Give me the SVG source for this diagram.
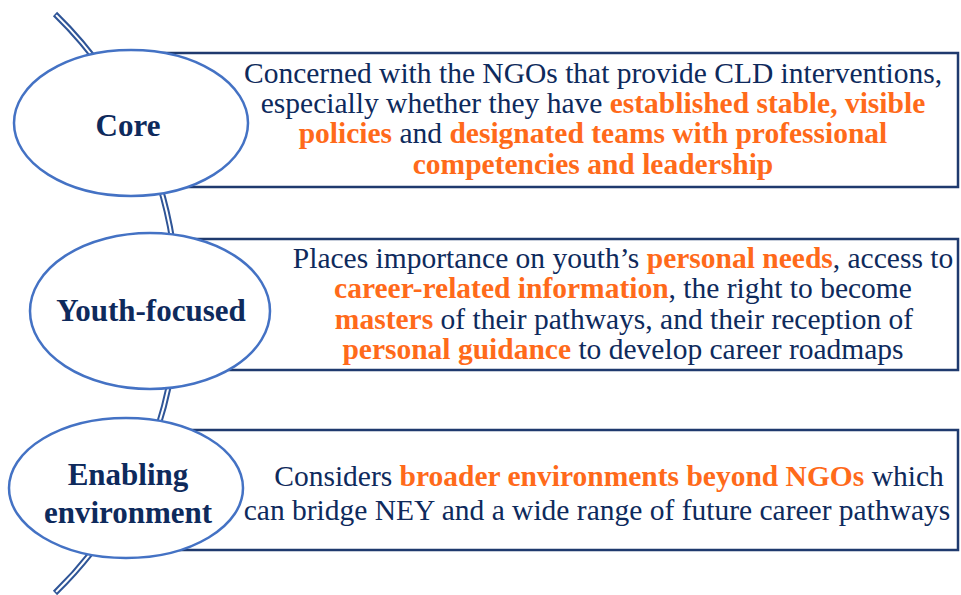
<svg xmlns="http://www.w3.org/2000/svg" width="961" height="595" viewBox="0 0 961 595">
<style>
.box{fill:#ffffff;stroke:#1F3A6E;stroke-width:2.5}
.ell{fill:#ffffff;stroke:#4472C4;stroke-width:2.5}
.lbl{font-weight:bold;font-size:31px;fill:#0E2A5C;text-anchor:middle}
.txt{font-size:29.5px;fill:#0E2A5C;text-anchor:middle}
.hl{font-weight:bold;fill:#FF6A1A}
</style>
<rect width="961" height="595" fill="#ffffff"/>
<g id="connectors">
<path d="M55,14 A404,404 0 0 1 55,593" fill="none" stroke="#2F5597" stroke-width="6"/>
<path d="M56.1,15.1 A404,404 0 0 1 56.1,591.9" fill="none" stroke="#ffffff" stroke-width="2"/>
</g>
<g font-family="Liberation Serif, Times New Roman, serif">
<g id="box-core">
<rect class="box" x="150" y="53" width="808" height="134"/>
<text class="txt" x="593" y="83">Concerned with the NGOs that provide CLD interventions,</text>
<text class="txt" x="593" y="113">especially whether they have <tspan class="hl">established stable, visible</tspan></text>
<text class="txt" x="593" y="143"><tspan class="hl">policies</tspan> and <tspan class="hl">designated teams with professional</tspan></text>
<text class="txt" x="593" y="174"><tspan class="hl">competencies and leadership</tspan></text>
</g>
<g id="box-youth">
<rect class="box" x="170" y="239" width="788" height="131"/>
<text class="txt" x="623" y="268">Places importance on youth’s <tspan class="hl">personal needs</tspan>, access to</text>
<text class="txt" x="623" y="298"><tspan class="hl">career-related information</tspan>, the right to become</text>
<text class="txt" x="624" y="329"><tspan class="hl">masters</tspan> of their pathways, and their reception of</text>
<text class="txt" x="623" y="359"><tspan class="hl">personal guidance</tspan> to develop career roadmaps</text>
</g>
<g id="box-enabling">
<rect class="box" x="150" y="430" width="808" height="120"/>
<text class="txt" x="609" y="486">Considers <tspan class="hl">broader environments beyond NGOs</tspan> which</text>
<text class="txt" x="597" y="520">can bridge NEY and a wide range of future career pathways</text>
</g>
<g id="node-core">
<ellipse class="ell" cx="131" cy="123" rx="117" ry="73"/>
<text class="lbl" x="128" y="136">Core</text>
</g>
<g id="node-youth">
<ellipse class="ell" cx="150" cy="311" rx="120" ry="78"/>
<text class="lbl" x="151" y="321">Youth-focused</text>
</g>
<g id="node-enabling">
<ellipse class="ell" cx="126" cy="488" rx="117" ry="70"/>
<text class="lbl" x="128" y="485">Enabling</text>
<text class="lbl" x="128" y="523">environment</text>
</g>
</g>
</svg>
